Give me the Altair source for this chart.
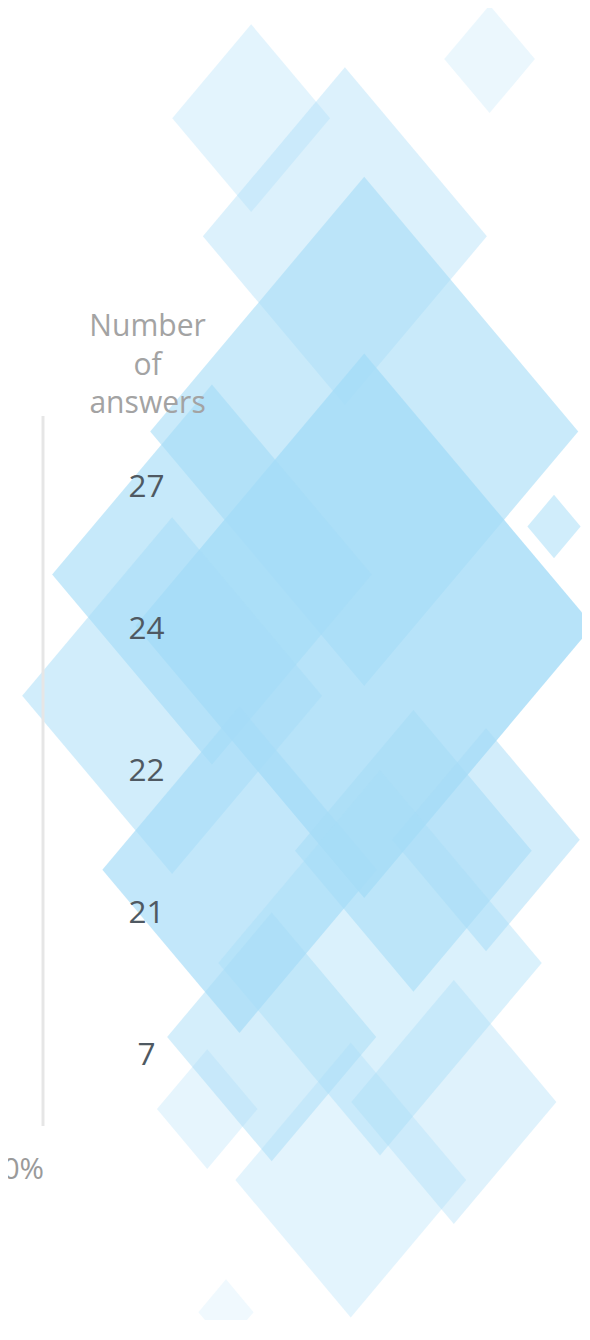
import altair as alt
import pandas as pd

# Diamond positions (percent of the reference drawing area, x from left, y from top)
pos_x = [41.9, 82.6, 57.9, 61.2, 61.2, 35.2, 93.6, 28.4, 39.9, 69.6, 82.0, 63.9, 45.4, 76.5, 58.9, 34.4, 37.6]
pos_y = [8.33, 3.90, 17.19, 31.83, 46.40, 42.57, 38.96, 51.65, 64.71, 63.29, 62.46, 71.70, 77.25, 82.13, 87.99, 82.66, 97.90]
magnitude = [80, 46, 144, 217, 232, 162, 27, 152, 139, 120, 95, 164, 106, 104, 117, 51, 28]
intensity = [0.31, 0.22, 0.39, 0.60, 0.80, 0.63, 0.52, 0.51, 0.68, 0.57, 0.50, 0.41, 0.48, 0.36, 0.31, 0.28, 0.17]

# Axis categories
answers = ["27", "24", "22", "21", "7"]

diamonds_df = pd.DataFrame({"px": pos_x, "py": pos_y, "magnitude": magnitude, "intensity": intensity})
answers_df = pd.DataFrame({"answers": answers})

W, H = 582, 1312
FONT = "Open Sans"

diamond_path = "M-1,0L0,-1.19L1,0L0,1.19Z"

diamonds = alt.Chart(diamonds_df).mark_point(
    shape=diamond_path, filled=True, strokeWidth=0, color="#a5dcf7"
).encode(
    x=alt.X("px:Q", scale=alt.Scale(domain=[0.385, 98.38], nice=False, zero=False, padding=0), axis=None),
    y=alt.Y("py:Q", scale=alt.Scale(domain=[0.742, 97.81], nice=False, zero=False, reverse=True, padding=0), axis=None),
    size=alt.Size("magnitude:Q", scale=alt.Scale(type="pow", exponent=2, domain=[0, 245], range=[0, 240100]), legend=None),
    opacity=alt.Opacity("intensity:Q", scale=None),
)

guide = alt.Chart(answers_df).mark_point(opacity=0, size=1).encode(
    y=alt.Y(
        "answers:N",
        sort=answers,
        scale=alt.Scale(range=[404, 1124], paddingInner=0, paddingOuter=0),
        axis=alt.Axis(
            orient="left",
            offset=-35,
            zindex=1,
            domainColor="#e6e6e6",
            domainWidth=3,
            ticks=False,
            grid=False,
            labelAlign="center",
            labelBaseline="middle",
            labelPadding=-105,
            labelFont=FONT,
            labelFontSize=32,
            labelColor="#4f5962",
            title=["Number", "of", "answers"],
            titleAngle=0,
            titleAlign="center",
            titleBaseline="alphabetic",
            titleX=106,
            titleY=323,
            titleFont=FONT,
            titleFontSize=30.5,
            titleFontWeight="normal",
            titleColor="#a3a3a3",
            titleLineHeight=39,
        ),
    ),
    x=alt.XDatum(
        100,
        type="quantitative",
        scale=alt.Scale(domain=[100, 0], range=[36, 582], nice=False, zero=False, padding=0),
        axis=alt.Axis(
            orient="bottom",
            offset=-(H - 1142),
            zindex=1,
            values=[100],
            domain=False,
            ticks=False,
            grid=False,
            labelExpr="datum.value + '%'",
            labelAlign="right",
            labelFlush=False,
            labelPadding=12,
            labelFont=FONT,
            labelFontSize=30,
            labelColor="#9a9a9a",
            title=None,
        ),
    ),
)

chart = alt.layer(diamonds, guide).resolve_scale(
    x="independent", y="independent"
).properties(
    width=W, height=H, autosize=alt.AutoSizeParams(type="none"), padding=0,
    background="#ffffff",
).configure_view(stroke=None)

chart.save("out.html", embed_options={"renderer": "svg", "actions": False})
